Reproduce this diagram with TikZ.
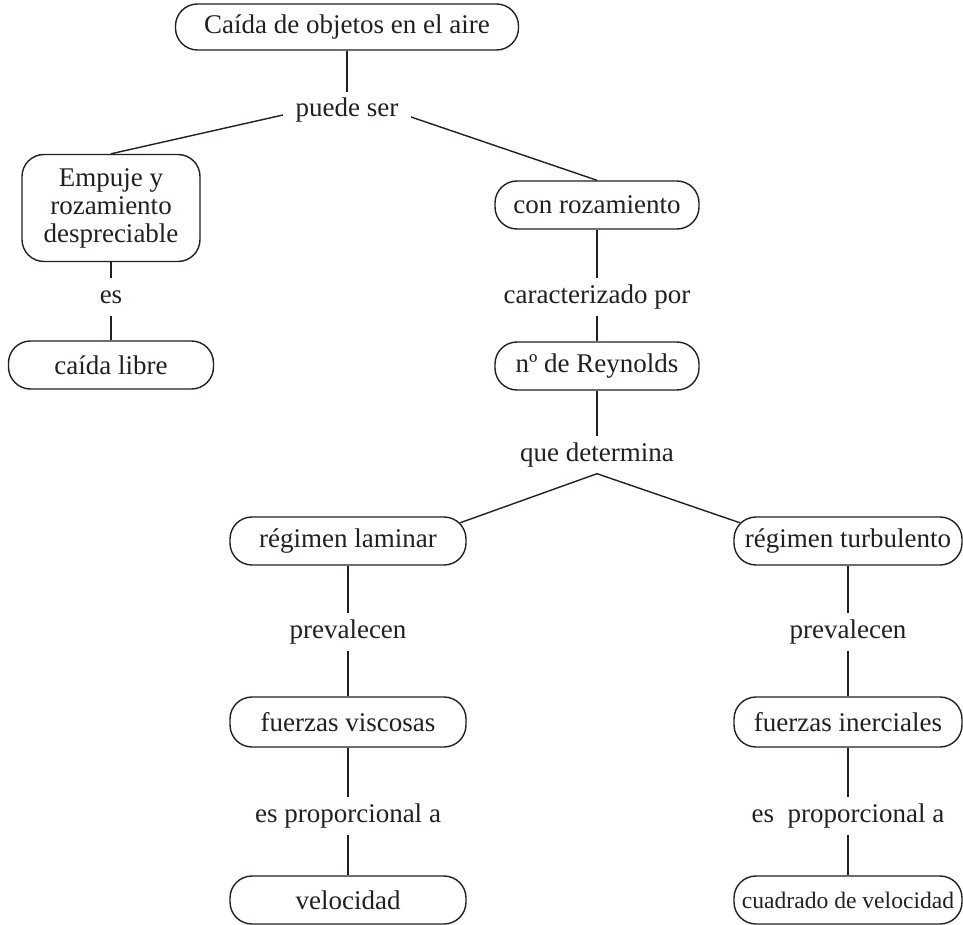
\documentclass[tikz,border=0pt]{standalone}
\usepackage{fontspec}
\setmainfont{Liberation Serif}
\usepackage{xcolor}
\usepackage{tikz}
\definecolor{ink}{HTML}{231F20}

\begin{document}
\begin{tikzpicture}[x=0.5pt, y=-0.5pt, line width=0.7pt, color=ink,
  every node/.style={font=\fontsize{13.5}{14}\selectfont},
  box/.style={draw, rounded corners=11pt, align=center, inner sep=0pt, minimum height=24pt},
  lbl/.style={inner xsep=6pt, inner ysep=0pt, text height=12pt, text depth=6pt}]
\useasboundingbox (0,0) rectangle (963,925);
\node[box, minimum width=171.5pt, minimum height=23pt] (caida) at (347,27) {Caída de objetos en el aire};
\node[lbl] (puede) at (347,111) {puede ser};
\node[box, minimum width=89pt, minimum height=53.5pt] (empuje) at (111,208) {Empuje y\\rozamiento\\despreciable};
\node[lbl] (es) at (111,297) {es};
\node[box, minimum width=102.5pt] (libre) at (111,365) {caída libre};
\node[box, minimum width=102pt] (conroz) at (597,205) {con rozamiento};
\node[lbl] (caract) at (597,297) {caracterizado por};
\node[box, minimum width=102pt] (reynolds) at (597,366) {nº de Reynolds};
\node[lbl] (determ) at (597,455) {que determina};
\node[box, minimum width=118pt] (laminar) at (348,541) {régimen laminar};
\node[box, minimum width=114pt] (turbul) at (848,541) {régimen turbulento};
\node[lbl] (prevA) at (348,632) {prevalecen};
\node[lbl] (prevB) at (848,632) {prevalecen};
\node[box, minimum width=118pt, minimum height=25pt] (viscosas) at (348,722) {fuerzas viscosas};
\node[box, minimum width=114pt, minimum height=25pt] (inerciales) at (848,722) {fuerzas inerciales};
\node[lbl] (propA) at (348,816) {es proporcional a};
\node[lbl] (propB) at (848,816) {es\ \ proporcional a};
\node[box, minimum width=118pt] (velocidad) at (348,900) {velocidad};
\node[box, minimum width=114pt, font=\fontsize{11.8}{12}\selectfont] (cuadrado) at (848,900) {cuadrado de velocidad};
\draw (caida) -- (puede);
\draw ([yshift=-2pt]puede.west) -- (empuje.north);
\draw ([yshift=-3pt]puede.east) -- (conroz.north);
\draw (empuje) -- (es);
\draw (es) -- (libre);
\draw (conroz) -- (caract);
\draw (caract) -- (reynolds);
\draw (reynolds) -- (determ);
\draw (determ.south) -- ([shift={(-3.2pt,-3.2pt)}]laminar.north east);
\draw (determ.south) -- ([shift={(3.2pt,-3.2pt)}]turbul.north west);
\draw (laminar) -- (prevA);
\draw (prevA) -- (viscosas);
\draw (viscosas) -- (propA);
\draw (propA) -- (velocidad);
\draw (turbul) -- (prevB);
\draw (prevB) -- (inerciales);
\draw (inerciales) -- (propB);
\draw (propB) -- (cuadrado);
\end{tikzpicture}
\end{document}
